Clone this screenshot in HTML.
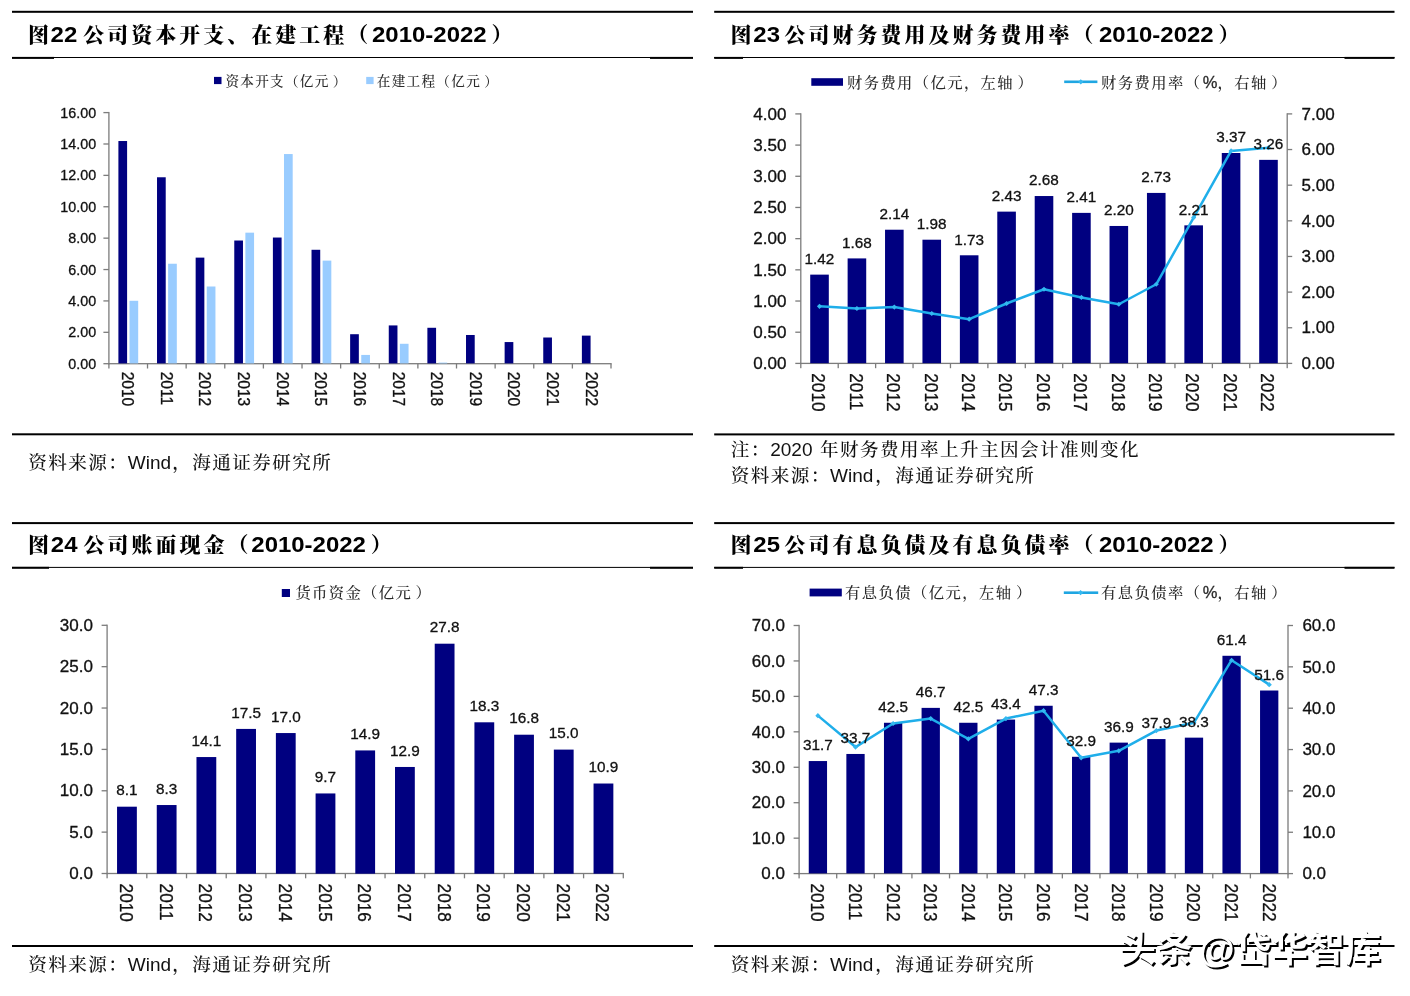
<!DOCTYPE html><html lang="zh-CN"><head><meta charset="utf-8"><title>图22-25</title><style>
html,body{margin:0;padding:0;background:#fff}svg{display:block}.n{font-family:"Liberation Sans", sans-serif;fill:#111;stroke:#111;stroke-width:0.3px}.tt{font-weight:bold;fill:#000}.tc{font-family:"Liberation Sans", "Noto Serif CJK SC", serif;font-size:21px;letter-spacing:3px;font-weight:900}.tl{font-family:"Liberation Sans", sans-serif;font-size:22px}.src{fill:#111}.sc{font-family:"Liberation Sans", "Noto Serif CJK SC", serif;font-size:18.6px;letter-spacing:1.4px;font-weight:500}.sl{font-family:"Liberation Sans", sans-serif;font-size:19px}.lg{font-family:"Liberation Sans", "Noto Serif CJK SC", serif;fill:#2a2a2a;font-weight:500}.wm{font-family:"Liberation Sans","Noto Sans CJK SC",sans-serif;font-size:36.6px;font-weight:700}
</style></head><body>
<svg width="1410" height="996" viewBox="0 0 1410 996">
<rect width="1410" height="996" fill="#fff"/>
<rect x="12" y="10.8" width="681" height="2" fill="#000"/>
<rect x="12" y="57" width="681" height="1" fill="#000"/>
<rect x="12" y="56.9" width="42" height="2" fill="#000"/>
<rect x="650" y="56.9" width="43" height="2" fill="#000"/>
<rect x="12" y="433.3" width="681" height="2" fill="#000"/>
<text x="28" y="42.4" class="tt tc">图</text>
<text transform="translate(50.6,42.4) scale(1.09,1)" class="tt tl">22</text>
<text x="83.2" y="42.4" class="tt tc">公司资本开支、在建工程（</text>
<text transform="translate(372,42.4) scale(1.09,1)" class="tt tl">2010-2022</text>
<text x="491.5" y="42.4" class="tt tc">）</text>
<rect x="214" y="76.9" width="7.5" height="7.2" fill="#000080"/>
<text x="225.4" y="85.6" font-size="13.6" letter-spacing="1.3" class="lg">资本开支（亿元<tspan dx="3.13">）</tspan></text>
<rect x="366.2" y="76.9" width="7.4" height="7.2" fill="#99CCFF"/>
<text x="376.8" y="85.6" font-size="13.6" letter-spacing="1.3" class="lg">在建工程（亿元<tspan dx="3.13">）</tspan></text>
<rect x="108.25" y="111.95" width="1.3" height="252.4" fill="#7c7c7c"/>
<rect x="103.4" y="111.95" width="5.5" height="1.3" fill="#7c7c7c"/>
<text transform="translate(96.1,117.72)" font-size="14.3" text-anchor="end" class="n">16.00</text>
<rect x="103.4" y="143.34" width="5.5" height="1.3" fill="#7c7c7c"/>
<text transform="translate(96.1,149.11)" font-size="14.3" text-anchor="end" class="n">14.00</text>
<rect x="103.4" y="174.72" width="5.5" height="1.3" fill="#7c7c7c"/>
<text transform="translate(96.1,180.49)" font-size="14.3" text-anchor="end" class="n">12.00</text>
<rect x="103.4" y="206.11" width="5.5" height="1.3" fill="#7c7c7c"/>
<text transform="translate(96.1,211.88)" font-size="14.3" text-anchor="end" class="n">10.00</text>
<rect x="103.4" y="237.5" width="5.5" height="1.3" fill="#7c7c7c"/>
<text transform="translate(96.1,243.27)" font-size="14.3" text-anchor="end" class="n">8.00</text>
<rect x="103.4" y="268.89" width="5.5" height="1.3" fill="#7c7c7c"/>
<text transform="translate(96.1,274.66)" font-size="14.3" text-anchor="end" class="n">6.00</text>
<rect x="103.4" y="300.27" width="5.5" height="1.3" fill="#7c7c7c"/>
<text transform="translate(96.1,306.04)" font-size="14.3" text-anchor="end" class="n">4.00</text>
<rect x="103.4" y="331.66" width="5.5" height="1.3" fill="#7c7c7c"/>
<text transform="translate(96.1,337.43)" font-size="14.3" text-anchor="end" class="n">2.00</text>
<rect x="103.4" y="363.05" width="5.5" height="1.3" fill="#7c7c7c"/>
<text transform="translate(96.1,368.82)" font-size="14.3" text-anchor="end" class="n">0.00</text>
<rect x="108.25" y="363.05" width="503.4" height="1.3" fill="#7c7c7c"/>
<rect x="108.25" y="363.7" width="1.3" height="4.8" fill="#7c7c7c"/>
<rect x="146.87" y="363.7" width="1.3" height="4.8" fill="#7c7c7c"/>
<rect x="185.5" y="363.7" width="1.3" height="4.8" fill="#7c7c7c"/>
<rect x="224.12" y="363.7" width="1.3" height="4.8" fill="#7c7c7c"/>
<rect x="262.74" y="363.7" width="1.3" height="4.8" fill="#7c7c7c"/>
<rect x="301.37" y="363.7" width="1.3" height="4.8" fill="#7c7c7c"/>
<rect x="339.99" y="363.7" width="1.3" height="4.8" fill="#7c7c7c"/>
<rect x="378.61" y="363.7" width="1.3" height="4.8" fill="#7c7c7c"/>
<rect x="417.23" y="363.7" width="1.3" height="4.8" fill="#7c7c7c"/>
<rect x="455.86" y="363.7" width="1.3" height="4.8" fill="#7c7c7c"/>
<rect x="494.48" y="363.7" width="1.3" height="4.8" fill="#7c7c7c"/>
<rect x="533.1" y="363.7" width="1.3" height="4.8" fill="#7c7c7c"/>
<rect x="571.73" y="363.7" width="1.3" height="4.8" fill="#7c7c7c"/>
<rect x="610.35" y="363.7" width="1.3" height="4.8" fill="#7c7c7c"/>
<text transform="translate(122.23,371.7) rotate(90) scale(1,1.06)" font-size="15.5" class="n">2010</text>
<text transform="translate(160.85,371.7) rotate(90) scale(1,1.06)" font-size="15.5" class="n">2011</text>
<text transform="translate(199.48,371.7) rotate(90) scale(1,1.06)" font-size="15.5" class="n">2012</text>
<text transform="translate(238.1,371.7) rotate(90) scale(1,1.06)" font-size="15.5" class="n">2013</text>
<text transform="translate(276.72,371.7) rotate(90) scale(1,1.06)" font-size="15.5" class="n">2014</text>
<text transform="translate(315.34,371.7) rotate(90) scale(1,1.06)" font-size="15.5" class="n">2015</text>
<text transform="translate(353.97,371.7) rotate(90) scale(1,1.06)" font-size="15.5" class="n">2016</text>
<text transform="translate(392.59,371.7) rotate(90) scale(1,1.06)" font-size="15.5" class="n">2017</text>
<text transform="translate(431.21,371.7) rotate(90) scale(1,1.06)" font-size="15.5" class="n">2018</text>
<text transform="translate(469.84,371.7) rotate(90) scale(1,1.06)" font-size="15.5" class="n">2019</text>
<text transform="translate(508.46,371.7) rotate(90) scale(1,1.06)" font-size="15.5" class="n">2020</text>
<text transform="translate(547.08,371.7) rotate(90) scale(1,1.06)" font-size="15.5" class="n">2021</text>
<text transform="translate(585.71,371.7) rotate(90) scale(1,1.06)" font-size="15.5" class="n">2022</text>
<rect x="118.4" y="141.02" width="8.7" height="222.38" fill="#000080"/>
<rect x="157.02" y="177.27" width="8.7" height="186.13" fill="#000080"/>
<rect x="195.65" y="257.62" width="8.7" height="105.78" fill="#000080"/>
<rect x="234.27" y="240.52" width="8.7" height="122.88" fill="#000080"/>
<rect x="272.89" y="237.54" width="8.7" height="125.86" fill="#000080"/>
<rect x="311.52" y="249.78" width="8.7" height="113.62" fill="#000080"/>
<rect x="350.14" y="334.21" width="8.7" height="29.19" fill="#000080"/>
<rect x="388.76" y="325.42" width="8.7" height="37.98" fill="#000080"/>
<rect x="427.38" y="327.78" width="8.7" height="35.62" fill="#000080"/>
<rect x="466.01" y="334.99" width="8.7" height="28.41" fill="#000080"/>
<rect x="504.63" y="342.06" width="8.7" height="21.34" fill="#000080"/>
<rect x="543.25" y="337.51" width="8.7" height="25.89" fill="#000080"/>
<rect x="581.88" y="335.62" width="8.7" height="27.78" fill="#000080"/>
<rect x="129.5" y="300.78" width="8.7" height="62.62" fill="#99CCFF"/>
<rect x="168.12" y="263.74" width="8.7" height="99.66" fill="#99CCFF"/>
<rect x="206.75" y="286.5" width="8.7" height="76.9" fill="#99CCFF"/>
<rect x="245.37" y="232.67" width="8.7" height="130.73" fill="#99CCFF"/>
<rect x="283.99" y="154.05" width="8.7" height="209.35" fill="#99CCFF"/>
<rect x="322.62" y="260.61" width="8.7" height="102.79" fill="#99CCFF"/>
<rect x="361.24" y="354.93" width="8.7" height="8.47" fill="#99CCFF"/>
<rect x="399.86" y="343.78" width="8.7" height="19.62" fill="#99CCFF"/>
<rect x="438.48" y="362.62" width="8.7" height="0.78" fill="#99CCFF"/>
<text y="468.8" class="src"><tspan x="28.2" class="sc">资料来源：</tspan><tspan x="127.8" class="sl">Wind</tspan><tspan x="172.3" class="sc">，海通证券研究所</tspan></text>
<rect x="714.2" y="10.8" width="680.3" height="2" fill="#000"/>
<rect x="714.2" y="57" width="680.3" height="1" fill="#000"/>
<rect x="714.2" y="56.9" width="28.8" height="2" fill="#000"/>
<rect x="1344.5" y="56.9" width="50" height="2" fill="#000"/>
<rect x="714.2" y="433.4" width="680.3" height="2" fill="#000"/>
<text x="730.4" y="42.4" class="tt tc">图</text>
<text transform="translate(753.3,42.4) scale(1.09,1)" class="tt tl">23</text>
<text x="784.4" y="42.4" class="tt tc">公司财务费用及财务费用率（</text>
<text transform="translate(1099,42.4) scale(1.09,1)" class="tt tl">2010-2022</text>
<text x="1218.5" y="42.4" class="tt tc">）</text>
<rect x="811.3" y="78.2" width="31.7" height="7.6" fill="#000080"/>
<text x="847" y="87.7" font-size="15.3" letter-spacing="1.4" class="lg">财务费用（亿元，左轴<tspan dx="3.52">）</tspan></text>
<rect x="1064.2" y="80.5" width="33.2" height="2.6" fill="#1FA6E2"/>
<path d="M1078.2 81.8l2.6-2.6 2.6 2.6-2.6 2.6z" fill="#35B8F0"/>
<text x="1101" y="87.7" font-size="15.3" letter-spacing="1.45" class="lg">财务费用率（<tspan font-family='"Liberation Sans", sans-serif' font-size="16.5" letter-spacing="0" dx="1.2" stroke="#2a2a2a" stroke-width="0.3">%</tspan><tspan dx="0.1">，右轴</tspan><tspan dx="3.5">）</tspan></text>
<rect x="800.15" y="113.25" width="1.3" height="250.8" fill="#7c7c7c"/>
<rect x="795.3" y="113.25" width="5.5" height="1.3" fill="#7c7c7c"/>
<text transform="translate(786.4,119.63) scale(1.066,1)" font-size="16" text-anchor="end" class="n">4.00</text>
<rect x="795.3" y="144.44" width="5.5" height="1.3" fill="#7c7c7c"/>
<text transform="translate(786.4,150.82) scale(1.066,1)" font-size="16" text-anchor="end" class="n">3.50</text>
<rect x="795.3" y="175.62" width="5.5" height="1.3" fill="#7c7c7c"/>
<text transform="translate(786.4,182) scale(1.066,1)" font-size="16" text-anchor="end" class="n">3.00</text>
<rect x="795.3" y="206.81" width="5.5" height="1.3" fill="#7c7c7c"/>
<text transform="translate(786.4,213.19) scale(1.066,1)" font-size="16" text-anchor="end" class="n">2.50</text>
<rect x="795.3" y="238" width="5.5" height="1.3" fill="#7c7c7c"/>
<text transform="translate(786.4,244.38) scale(1.066,1)" font-size="16" text-anchor="end" class="n">2.00</text>
<rect x="795.3" y="269.19" width="5.5" height="1.3" fill="#7c7c7c"/>
<text transform="translate(786.4,275.57) scale(1.066,1)" font-size="16" text-anchor="end" class="n">1.50</text>
<rect x="795.3" y="300.38" width="5.5" height="1.3" fill="#7c7c7c"/>
<text transform="translate(786.4,306.75) scale(1.066,1)" font-size="16" text-anchor="end" class="n">1.00</text>
<rect x="795.3" y="331.56" width="5.5" height="1.3" fill="#7c7c7c"/>
<text transform="translate(786.4,337.94) scale(1.066,1)" font-size="16" text-anchor="end" class="n">0.50</text>
<rect x="795.3" y="362.75" width="5.5" height="1.3" fill="#7c7c7c"/>
<text transform="translate(786.4,369.13) scale(1.066,1)" font-size="16" text-anchor="end" class="n">0.00</text>
<rect x="1286.55" y="113.25" width="1.3" height="250.8" fill="#7c7c7c"/>
<rect x="1287.2" y="113.25" width="5" height="1.3" fill="#7c7c7c"/>
<text transform="translate(1301.6,119.63) scale(1.066,1)" font-size="16" class="n">7.00</text>
<rect x="1287.2" y="148.89" width="5" height="1.3" fill="#7c7c7c"/>
<text transform="translate(1301.6,155.27) scale(1.066,1)" font-size="16" class="n">6.00</text>
<rect x="1287.2" y="184.54" width="5" height="1.3" fill="#7c7c7c"/>
<text transform="translate(1301.6,190.91) scale(1.066,1)" font-size="16" class="n">5.00</text>
<rect x="1287.2" y="220.18" width="5" height="1.3" fill="#7c7c7c"/>
<text transform="translate(1301.6,226.56) scale(1.066,1)" font-size="16" class="n">4.00</text>
<rect x="1287.2" y="255.82" width="5" height="1.3" fill="#7c7c7c"/>
<text transform="translate(1301.6,262.2) scale(1.066,1)" font-size="16" class="n">3.00</text>
<rect x="1287.2" y="291.46" width="5" height="1.3" fill="#7c7c7c"/>
<text transform="translate(1301.6,297.84) scale(1.066,1)" font-size="16" class="n">2.00</text>
<rect x="1287.2" y="327.11" width="5" height="1.3" fill="#7c7c7c"/>
<text transform="translate(1301.6,333.49) scale(1.066,1)" font-size="16" class="n">1.00</text>
<rect x="1287.2" y="362.75" width="5" height="1.3" fill="#7c7c7c"/>
<text transform="translate(1301.6,369.13) scale(1.066,1)" font-size="16" class="n">0.00</text>
<rect x="800.15" y="362.75" width="487.7" height="1.3" fill="#7c7c7c"/>
<rect x="800.15" y="363.4" width="1.3" height="4.8" fill="#7c7c7c"/>
<rect x="837.57" y="363.4" width="1.3" height="4.8" fill="#7c7c7c"/>
<rect x="874.98" y="363.4" width="1.3" height="4.8" fill="#7c7c7c"/>
<rect x="912.4" y="363.4" width="1.3" height="4.8" fill="#7c7c7c"/>
<rect x="949.81" y="363.4" width="1.3" height="4.8" fill="#7c7c7c"/>
<rect x="987.23" y="363.4" width="1.3" height="4.8" fill="#7c7c7c"/>
<rect x="1024.64" y="363.4" width="1.3" height="4.8" fill="#7c7c7c"/>
<rect x="1062.06" y="363.4" width="1.3" height="4.8" fill="#7c7c7c"/>
<rect x="1099.47" y="363.4" width="1.3" height="4.8" fill="#7c7c7c"/>
<rect x="1136.89" y="363.4" width="1.3" height="4.8" fill="#7c7c7c"/>
<rect x="1174.3" y="363.4" width="1.3" height="4.8" fill="#7c7c7c"/>
<rect x="1211.72" y="363.4" width="1.3" height="4.8" fill="#7c7c7c"/>
<rect x="1249.13" y="363.4" width="1.3" height="4.8" fill="#7c7c7c"/>
<rect x="1286.55" y="363.4" width="1.3" height="4.8" fill="#7c7c7c"/>
<text transform="translate(812.33,373.3) rotate(90) scale(1,1.02)" font-size="17.2" class="n">2010</text>
<text transform="translate(849.74,373.3) rotate(90) scale(1,1.02)" font-size="17.2" class="n">2011</text>
<text transform="translate(887.16,373.3) rotate(90) scale(1,1.02)" font-size="17.2" class="n">2012</text>
<text transform="translate(924.57,373.3) rotate(90) scale(1,1.02)" font-size="17.2" class="n">2013</text>
<text transform="translate(961.99,373.3) rotate(90) scale(1,1.02)" font-size="17.2" class="n">2014</text>
<text transform="translate(999.4,373.3) rotate(90) scale(1,1.02)" font-size="17.2" class="n">2015</text>
<text transform="translate(1036.82,373.3) rotate(90) scale(1,1.02)" font-size="17.2" class="n">2016</text>
<text transform="translate(1074.23,373.3) rotate(90) scale(1,1.02)" font-size="17.2" class="n">2017</text>
<text transform="translate(1111.65,373.3) rotate(90) scale(1,1.02)" font-size="17.2" class="n">2018</text>
<text transform="translate(1149.07,373.3) rotate(90) scale(1,1.02)" font-size="17.2" class="n">2019</text>
<text transform="translate(1186.48,373.3) rotate(90) scale(1,1.02)" font-size="17.2" class="n">2020</text>
<text transform="translate(1223.9,373.3) rotate(90) scale(1,1.02)" font-size="17.2" class="n">2021</text>
<text transform="translate(1261.31,373.3) rotate(90) scale(1,1.02)" font-size="17.2" class="n">2022</text>
<rect x="810.21" y="274.63" width="18.6" height="88.57" fill="#000080"/>
<rect x="847.62" y="258.41" width="18.6" height="104.79" fill="#000080"/>
<rect x="885.04" y="229.72" width="18.6" height="133.48" fill="#000080"/>
<rect x="922.45" y="239.7" width="18.6" height="123.5" fill="#000080"/>
<rect x="959.87" y="255.29" width="18.6" height="107.91" fill="#000080"/>
<rect x="997.28" y="211.63" width="18.6" height="151.57" fill="#000080"/>
<rect x="1034.7" y="196.03" width="18.6" height="167.16" fill="#000080"/>
<rect x="1072.12" y="212.88" width="18.6" height="150.32" fill="#000080"/>
<rect x="1109.53" y="225.97" width="18.6" height="137.22" fill="#000080"/>
<rect x="1146.95" y="192.92" width="18.6" height="170.28" fill="#000080"/>
<rect x="1184.36" y="225.35" width="18.6" height="137.85" fill="#000080"/>
<rect x="1221.78" y="153" width="18.6" height="210.2" fill="#000080"/>
<rect x="1259.19" y="159.86" width="18.6" height="203.34" fill="#000080"/>
<polyline points="819.51,306.37 856.92,308.51 894.34,307.08 931.75,313.5 969.17,319.2 1006.58,303.52 1044,289.26 1081.42,297.46 1118.83,304.23 1156.25,284.27 1193.66,217.62 1231.08,150.97 1268.49,147.76" fill="none" stroke="#1FAEEA" stroke-width="2.5" stroke-linejoin="round" stroke-linecap="round"/>
<path d="M816.91 306.37L819.51 303.77L822.11 306.37L819.51 308.97Z" fill="#35B8F0"/>
<path d="M854.32 308.51L856.92 305.91L859.52 308.51L856.92 311.11Z" fill="#35B8F0"/>
<path d="M891.74 307.08L894.34 304.48L896.94 307.08L894.34 309.68Z" fill="#35B8F0"/>
<path d="M929.15 313.5L931.75 310.9L934.35 313.5L931.75 316.1Z" fill="#35B8F0"/>
<path d="M966.57 319.2L969.17 316.6L971.77 319.2L969.17 321.8Z" fill="#35B8F0"/>
<path d="M1003.98 303.52L1006.58 300.92L1009.18 303.52L1006.58 306.12Z" fill="#35B8F0"/>
<path d="M1041.4 289.26L1044 286.66L1046.6 289.26L1044 291.86Z" fill="#35B8F0"/>
<path d="M1078.82 297.46L1081.42 294.86L1084.02 297.46L1081.42 300.06Z" fill="#35B8F0"/>
<path d="M1116.23 304.23L1118.83 301.63L1121.43 304.23L1118.83 306.83Z" fill="#35B8F0"/>
<path d="M1153.65 284.27L1156.25 281.67L1158.85 284.27L1156.25 286.87Z" fill="#35B8F0"/>
<path d="M1191.06 217.62L1193.66 215.02L1196.26 217.62L1193.66 220.22Z" fill="#35B8F0"/>
<path d="M1228.48 150.97L1231.08 148.37L1233.68 150.97L1231.08 153.57Z" fill="#35B8F0"/>
<path d="M1265.89 147.76L1268.49 145.16L1271.09 147.76L1268.49 150.36Z" fill="#35B8F0"/>
<text x="819.51" y="264.03" font-size="15.3" text-anchor="middle" class="n">1.42</text>
<text x="856.92" y="247.81" font-size="15.3" text-anchor="middle" class="n">1.68</text>
<text x="894.34" y="219.12" font-size="15.3" text-anchor="middle" class="n">2.14</text>
<text x="931.75" y="229.1" font-size="15.3" text-anchor="middle" class="n">1.98</text>
<text x="969.17" y="244.69" font-size="15.3" text-anchor="middle" class="n">1.73</text>
<text x="1006.58" y="201.03" font-size="15.3" text-anchor="middle" class="n">2.43</text>
<text x="1044" y="185.43" font-size="15.3" text-anchor="middle" class="n">2.68</text>
<text x="1081.42" y="202.28" font-size="15.3" text-anchor="middle" class="n">2.41</text>
<text x="1118.83" y="215.37" font-size="15.3" text-anchor="middle" class="n">2.20</text>
<text x="1156.25" y="182.32" font-size="15.3" text-anchor="middle" class="n">2.73</text>
<text x="1193.66" y="214.75" font-size="15.3" text-anchor="middle" class="n">2.21</text>
<text x="1231.08" y="142.4" font-size="15.3" text-anchor="middle" class="n">3.37</text>
<text x="1268.49" y="149.26" font-size="15.3" text-anchor="middle" class="n">3.26</text>
<text y="455.7" class="src"><tspan x="730.8" class="sc">注：</tspan><tspan x="770.2" class="sl">2020</tspan><tspan x="820" class="sc">年财务费用率上升主因会计准则变化</tspan></text>
<text y="482.2" class="src"><tspan x="730.8" class="sc">资料来源：</tspan><tspan x="830" class="sl">Wind</tspan><tspan x="875.3" class="sc">，海通证券研究所</tspan></text>
<rect x="12" y="522.1" width="681" height="2" fill="#000"/>
<rect x="12" y="566.9" width="681" height="1" fill="#000"/>
<rect x="12" y="566.8" width="37" height="2" fill="#000"/>
<rect x="650" y="566.8" width="43" height="2" fill="#000"/>
<rect x="12" y="945" width="681" height="2" fill="#000"/>
<text x="28.1" y="551.9" class="tt tc">图</text>
<text transform="translate(50.8,551.9) scale(1.09,1)" class="tt tl">24</text>
<text x="83.5" y="551.9" class="tt tc">公司账面现金（</text>
<text transform="translate(251.3,551.9) scale(1.09,1)" class="tt tl">2010-2022</text>
<text x="370.8" y="551.9" class="tt tc">）</text>
<rect x="281.8" y="589" width="8.2" height="8" fill="#000080"/>
<text x="295.4" y="597.6" font-size="15.3" letter-spacing="1.37" class="lg">货币资金（亿元<tspan dx="3.52">）</tspan></text>
<rect x="106.45" y="624.65" width="1.3" height="249.5" fill="#7c7c7c"/>
<rect x="101.6" y="624.65" width="5.5" height="1.3" fill="#7c7c7c"/>
<text transform="translate(92.9,631.03) scale(1.066,1)" font-size="16" text-anchor="end" class="n">30.0</text>
<rect x="101.6" y="666.02" width="5.5" height="1.3" fill="#7c7c7c"/>
<text transform="translate(92.9,672.39) scale(1.066,1)" font-size="16" text-anchor="end" class="n">25.0</text>
<rect x="101.6" y="707.38" width="5.5" height="1.3" fill="#7c7c7c"/>
<text transform="translate(92.9,713.76) scale(1.066,1)" font-size="16" text-anchor="end" class="n">20.0</text>
<rect x="101.6" y="748.75" width="5.5" height="1.3" fill="#7c7c7c"/>
<text transform="translate(92.9,755.13) scale(1.066,1)" font-size="16" text-anchor="end" class="n">15.0</text>
<rect x="101.6" y="790.12" width="5.5" height="1.3" fill="#7c7c7c"/>
<text transform="translate(92.9,796.49) scale(1.066,1)" font-size="16" text-anchor="end" class="n">10.0</text>
<rect x="101.6" y="831.48" width="5.5" height="1.3" fill="#7c7c7c"/>
<text transform="translate(92.9,837.86) scale(1.066,1)" font-size="16" text-anchor="end" class="n">5.0</text>
<rect x="101.6" y="872.85" width="5.5" height="1.3" fill="#7c7c7c"/>
<text transform="translate(92.9,879.23) scale(1.066,1)" font-size="16" text-anchor="end" class="n">0.0</text>
<rect x="106.45" y="872.85" width="517.5" height="1.3" fill="#7c7c7c"/>
<rect x="106.45" y="873.5" width="1.3" height="4.8" fill="#7c7c7c"/>
<rect x="146.16" y="873.5" width="1.3" height="4.8" fill="#7c7c7c"/>
<rect x="185.87" y="873.5" width="1.3" height="4.8" fill="#7c7c7c"/>
<rect x="225.57" y="873.5" width="1.3" height="4.8" fill="#7c7c7c"/>
<rect x="265.28" y="873.5" width="1.3" height="4.8" fill="#7c7c7c"/>
<rect x="304.99" y="873.5" width="1.3" height="4.8" fill="#7c7c7c"/>
<rect x="344.7" y="873.5" width="1.3" height="4.8" fill="#7c7c7c"/>
<rect x="384.4" y="873.5" width="1.3" height="4.8" fill="#7c7c7c"/>
<rect x="424.11" y="873.5" width="1.3" height="4.8" fill="#7c7c7c"/>
<rect x="463.82" y="873.5" width="1.3" height="4.8" fill="#7c7c7c"/>
<rect x="503.53" y="873.5" width="1.3" height="4.8" fill="#7c7c7c"/>
<rect x="543.23" y="873.5" width="1.3" height="4.8" fill="#7c7c7c"/>
<rect x="582.94" y="873.5" width="1.3" height="4.8" fill="#7c7c7c"/>
<rect x="622.65" y="873.5" width="1.3" height="4.8" fill="#7c7c7c"/>
<text transform="translate(119.97,883.6) rotate(90) scale(1,1.02)" font-size="17.2" class="n">2010</text>
<text transform="translate(159.68,883.6) rotate(90) scale(1,1.02)" font-size="17.2" class="n">2011</text>
<text transform="translate(199.39,883.6) rotate(90) scale(1,1.02)" font-size="17.2" class="n">2012</text>
<text transform="translate(239.1,883.6) rotate(90) scale(1,1.02)" font-size="17.2" class="n">2013</text>
<text transform="translate(278.8,883.6) rotate(90) scale(1,1.02)" font-size="17.2" class="n">2014</text>
<text transform="translate(318.51,883.6) rotate(90) scale(1,1.02)" font-size="17.2" class="n">2015</text>
<text transform="translate(358.22,883.6) rotate(90) scale(1,1.02)" font-size="17.2" class="n">2016</text>
<text transform="translate(397.93,883.6) rotate(90) scale(1,1.02)" font-size="17.2" class="n">2017</text>
<text transform="translate(437.63,883.6) rotate(90) scale(1,1.02)" font-size="17.2" class="n">2018</text>
<text transform="translate(477.34,883.6) rotate(90) scale(1,1.02)" font-size="17.2" class="n">2019</text>
<text transform="translate(517.05,883.6) rotate(90) scale(1,1.02)" font-size="17.2" class="n">2020</text>
<text transform="translate(556.76,883.6) rotate(90) scale(1,1.02)" font-size="17.2" class="n">2021</text>
<text transform="translate(596.47,883.6) rotate(90) scale(1,1.02)" font-size="17.2" class="n">2022</text>
<rect x="117.05" y="806.69" width="19.8" height="67.01" fill="#000080"/>
<rect x="156.76" y="805.03" width="19.8" height="68.67" fill="#000080"/>
<rect x="196.47" y="757.05" width="19.8" height="116.65" fill="#000080"/>
<rect x="236.18" y="728.92" width="19.8" height="144.78" fill="#000080"/>
<rect x="275.88" y="733.05" width="19.8" height="140.65" fill="#000080"/>
<rect x="315.59" y="793.45" width="19.8" height="80.25" fill="#000080"/>
<rect x="355.3" y="750.43" width="19.8" height="123.27" fill="#000080"/>
<rect x="395.01" y="766.97" width="19.8" height="106.73" fill="#000080"/>
<rect x="434.72" y="643.7" width="19.8" height="230" fill="#000080"/>
<rect x="474.42" y="722.3" width="19.8" height="151.4" fill="#000080"/>
<rect x="514.13" y="734.71" width="19.8" height="138.99" fill="#000080"/>
<rect x="553.84" y="749.6" width="19.8" height="124.1" fill="#000080"/>
<rect x="593.55" y="783.52" width="19.8" height="90.18" fill="#000080"/>
<text x="126.95" y="795.29" font-size="15.3" text-anchor="middle" class="n">8.1</text>
<text x="166.66" y="793.63" font-size="15.3" text-anchor="middle" class="n">8.3</text>
<text x="206.37" y="745.65" font-size="15.3" text-anchor="middle" class="n">14.1</text>
<text x="246.08" y="717.52" font-size="15.3" text-anchor="middle" class="n">17.5</text>
<text x="285.78" y="721.65" font-size="15.3" text-anchor="middle" class="n">17.0</text>
<text x="325.49" y="782.05" font-size="15.3" text-anchor="middle" class="n">9.7</text>
<text x="365.2" y="739.03" font-size="15.3" text-anchor="middle" class="n">14.9</text>
<text x="404.91" y="755.57" font-size="15.3" text-anchor="middle" class="n">12.9</text>
<text x="444.62" y="632.3" font-size="15.3" text-anchor="middle" class="n">27.8</text>
<text x="484.32" y="710.9" font-size="15.3" text-anchor="middle" class="n">18.3</text>
<text x="524.03" y="723.31" font-size="15.3" text-anchor="middle" class="n">16.8</text>
<text x="563.74" y="738.2" font-size="15.3" text-anchor="middle" class="n">15.0</text>
<text x="603.45" y="772.12" font-size="15.3" text-anchor="middle" class="n">10.9</text>
<text y="970.5" class="src"><tspan x="28.2" class="sc">资料来源：</tspan><tspan x="127.8" class="sl">Wind</tspan><tspan x="172.3" class="sc">，海通证券研究所</tspan></text>
<rect x="714.2" y="522.1" width="680.3" height="2" fill="#000"/>
<rect x="714.2" y="566.9" width="680.3" height="1" fill="#000"/>
<rect x="714.2" y="566.8" width="28.8" height="2" fill="#000"/>
<rect x="1344.5" y="566.8" width="50" height="2" fill="#000"/>
<rect x="714.2" y="945" width="680.3" height="2" fill="#000"/>
<text x="730.4" y="551.9" class="tt tc">图</text>
<text transform="translate(753.3,551.9) scale(1.09,1)" class="tt tl">25</text>
<text x="784.4" y="551.9" class="tt tc">公司有息负债及有息负债率（</text>
<text transform="translate(1099,551.9) scale(1.09,1)" class="tt tl">2010-2022</text>
<text x="1218.5" y="551.9" class="tt tc">）</text>
<rect x="809.6" y="588.6" width="32.2" height="7.8" fill="#000080"/>
<text x="845" y="597.7" font-size="15.3" letter-spacing="1.45" class="lg">有息负债（亿元，左轴<tspan dx="3.52">）</tspan></text>
<rect x="1063.8" y="591.4" width="34.4" height="2.6" fill="#1FA6E2"/>
<path d="M1078 592.7l2.6-2.6 2.6 2.6-2.6 2.6z" fill="#35B8F0"/>
<text x="1101" y="597.7" font-size="15.3" letter-spacing="1.45" class="lg">有息负债率（<tspan font-family='"Liberation Sans", sans-serif' font-size="16.5" letter-spacing="0" dx="1.2" stroke="#2a2a2a" stroke-width="0.3">%</tspan><tspan dx="0.1">，右轴</tspan><tspan dx="3.5">）</tspan></text>
<rect x="798.45" y="624.85" width="1.3" height="249.4" fill="#7c7c7c"/>
<rect x="793.6" y="624.85" width="5.5" height="1.3" fill="#7c7c7c"/>
<text transform="translate(785,631.23) scale(1.066,1)" font-size="16" text-anchor="end" class="n">70.0</text>
<rect x="793.6" y="660.29" width="5.5" height="1.3" fill="#7c7c7c"/>
<text transform="translate(785,666.67) scale(1.066,1)" font-size="16" text-anchor="end" class="n">60.0</text>
<rect x="793.6" y="695.74" width="5.5" height="1.3" fill="#7c7c7c"/>
<text transform="translate(785,702.11) scale(1.066,1)" font-size="16" text-anchor="end" class="n">50.0</text>
<rect x="793.6" y="731.18" width="5.5" height="1.3" fill="#7c7c7c"/>
<text transform="translate(785,737.56) scale(1.066,1)" font-size="16" text-anchor="end" class="n">40.0</text>
<rect x="793.6" y="766.62" width="5.5" height="1.3" fill="#7c7c7c"/>
<text transform="translate(785,773) scale(1.066,1)" font-size="16" text-anchor="end" class="n">30.0</text>
<rect x="793.6" y="802.06" width="5.5" height="1.3" fill="#7c7c7c"/>
<text transform="translate(785,808.44) scale(1.066,1)" font-size="16" text-anchor="end" class="n">20.0</text>
<rect x="793.6" y="837.51" width="5.5" height="1.3" fill="#7c7c7c"/>
<text transform="translate(785,843.89) scale(1.066,1)" font-size="16" text-anchor="end" class="n">10.0</text>
<rect x="793.6" y="872.95" width="5.5" height="1.3" fill="#7c7c7c"/>
<text transform="translate(785,879.33) scale(1.066,1)" font-size="16" text-anchor="end" class="n">0.0</text>
<rect x="1287.35" y="624.85" width="1.3" height="249.4" fill="#7c7c7c"/>
<rect x="1288" y="624.85" width="5" height="1.3" fill="#7c7c7c"/>
<text transform="translate(1302.4,631.23) scale(1.066,1)" font-size="16" class="n">60.0</text>
<rect x="1288" y="666.2" width="5" height="1.3" fill="#7c7c7c"/>
<text transform="translate(1302.4,672.58) scale(1.066,1)" font-size="16" class="n">50.0</text>
<rect x="1288" y="707.55" width="5" height="1.3" fill="#7c7c7c"/>
<text transform="translate(1302.4,713.93) scale(1.066,1)" font-size="16" class="n">40.0</text>
<rect x="1288" y="748.9" width="5" height="1.3" fill="#7c7c7c"/>
<text transform="translate(1302.4,755.28) scale(1.066,1)" font-size="16" class="n">30.0</text>
<rect x="1288" y="790.25" width="5" height="1.3" fill="#7c7c7c"/>
<text transform="translate(1302.4,796.63) scale(1.066,1)" font-size="16" class="n">20.0</text>
<rect x="1288" y="831.6" width="5" height="1.3" fill="#7c7c7c"/>
<text transform="translate(1302.4,837.98) scale(1.066,1)" font-size="16" class="n">10.0</text>
<rect x="1288" y="872.95" width="5" height="1.3" fill="#7c7c7c"/>
<text transform="translate(1302.4,879.33) scale(1.066,1)" font-size="16" class="n">0.0</text>
<rect x="798.45" y="872.95" width="490.2" height="1.3" fill="#7c7c7c"/>
<rect x="798.45" y="873.6" width="1.3" height="4.8" fill="#7c7c7c"/>
<rect x="836.06" y="873.6" width="1.3" height="4.8" fill="#7c7c7c"/>
<rect x="873.67" y="873.6" width="1.3" height="4.8" fill="#7c7c7c"/>
<rect x="911.27" y="873.6" width="1.3" height="4.8" fill="#7c7c7c"/>
<rect x="948.88" y="873.6" width="1.3" height="4.8" fill="#7c7c7c"/>
<rect x="986.49" y="873.6" width="1.3" height="4.8" fill="#7c7c7c"/>
<rect x="1024.1" y="873.6" width="1.3" height="4.8" fill="#7c7c7c"/>
<rect x="1061.7" y="873.6" width="1.3" height="4.8" fill="#7c7c7c"/>
<rect x="1099.31" y="873.6" width="1.3" height="4.8" fill="#7c7c7c"/>
<rect x="1136.92" y="873.6" width="1.3" height="4.8" fill="#7c7c7c"/>
<rect x="1174.53" y="873.6" width="1.3" height="4.8" fill="#7c7c7c"/>
<rect x="1212.13" y="873.6" width="1.3" height="4.8" fill="#7c7c7c"/>
<rect x="1249.74" y="873.6" width="1.3" height="4.8" fill="#7c7c7c"/>
<rect x="1287.35" y="873.6" width="1.3" height="4.8" fill="#7c7c7c"/>
<text transform="translate(811.32,883.4) rotate(90) scale(1,1.02)" font-size="17.2" class="n">2010</text>
<text transform="translate(848.93,883.4) rotate(90) scale(1,1.02)" font-size="17.2" class="n">2011</text>
<text transform="translate(886.54,883.4) rotate(90) scale(1,1.02)" font-size="17.2" class="n">2012</text>
<text transform="translate(924.15,883.4) rotate(90) scale(1,1.02)" font-size="17.2" class="n">2013</text>
<text transform="translate(961.75,883.4) rotate(90) scale(1,1.02)" font-size="17.2" class="n">2014</text>
<text transform="translate(999.36,883.4) rotate(90) scale(1,1.02)" font-size="17.2" class="n">2015</text>
<text transform="translate(1036.97,883.4) rotate(90) scale(1,1.02)" font-size="17.2" class="n">2016</text>
<text transform="translate(1074.58,883.4) rotate(90) scale(1,1.02)" font-size="17.2" class="n">2017</text>
<text transform="translate(1112.18,883.4) rotate(90) scale(1,1.02)" font-size="17.2" class="n">2018</text>
<text transform="translate(1149.79,883.4) rotate(90) scale(1,1.02)" font-size="17.2" class="n">2019</text>
<text transform="translate(1187.4,883.4) rotate(90) scale(1,1.02)" font-size="17.2" class="n">2020</text>
<text transform="translate(1225.01,883.4) rotate(90) scale(1,1.02)" font-size="17.2" class="n">2021</text>
<text transform="translate(1262.62,883.4) rotate(90) scale(1,1.02)" font-size="17.2" class="n">2022</text>
<rect x="808.75" y="761.05" width="18.3" height="112.35" fill="#000080"/>
<rect x="846.36" y="753.96" width="18.3" height="119.44" fill="#000080"/>
<rect x="883.97" y="722.77" width="18.3" height="150.63" fill="#000080"/>
<rect x="921.58" y="707.88" width="18.3" height="165.52" fill="#000080"/>
<rect x="959.18" y="722.77" width="18.3" height="150.63" fill="#000080"/>
<rect x="996.79" y="719.58" width="18.3" height="153.82" fill="#000080"/>
<rect x="1034.4" y="705.76" width="18.3" height="167.64" fill="#000080"/>
<rect x="1072.01" y="756.79" width="18.3" height="116.61" fill="#000080"/>
<rect x="1109.62" y="742.62" width="18.3" height="130.78" fill="#000080"/>
<rect x="1147.22" y="739.07" width="18.3" height="134.33" fill="#000080"/>
<rect x="1184.83" y="737.65" width="18.3" height="135.75" fill="#000080"/>
<rect x="1222.44" y="655.78" width="18.3" height="217.62" fill="#000080"/>
<rect x="1260.05" y="690.51" width="18.3" height="182.89" fill="#000080"/>
<polyline points="817.9,715.64 855.51,747.07 893.12,723.5 930.73,718.54 968.33,738.8 1005.94,718.54 1043.55,710.68 1081.16,757.82 1118.77,750.79 1156.37,730.53 1193.98,722.67 1231.59,660.23 1269.2,684.63" fill="none" stroke="#1FAEEA" stroke-width="2.5" stroke-linejoin="round" stroke-linecap="round"/>
<path d="M815.3 715.64L817.9 713.04L820.5 715.64L817.9 718.24Z" fill="#35B8F0"/>
<path d="M852.91 747.07L855.51 744.47L858.11 747.07L855.51 749.67Z" fill="#35B8F0"/>
<path d="M890.52 723.5L893.12 720.9L895.72 723.5L893.12 726.1Z" fill="#35B8F0"/>
<path d="M928.13 718.54L930.73 715.94L933.33 718.54L930.73 721.14Z" fill="#35B8F0"/>
<path d="M965.73 738.8L968.33 736.2L970.93 738.8L968.33 741.4Z" fill="#35B8F0"/>
<path d="M1003.34 718.54L1005.94 715.94L1008.54 718.54L1005.94 721.14Z" fill="#35B8F0"/>
<path d="M1040.95 710.68L1043.55 708.08L1046.15 710.68L1043.55 713.28Z" fill="#35B8F0"/>
<path d="M1078.56 757.82L1081.16 755.22L1083.76 757.82L1081.16 760.42Z" fill="#35B8F0"/>
<path d="M1116.17 750.79L1118.77 748.19L1121.37 750.79L1118.77 753.39Z" fill="#35B8F0"/>
<path d="M1153.77 730.53L1156.37 727.93L1158.97 730.53L1156.37 733.13Z" fill="#35B8F0"/>
<path d="M1191.38 722.67L1193.98 720.07L1196.58 722.67L1193.98 725.27Z" fill="#35B8F0"/>
<path d="M1228.99 660.23L1231.59 657.63L1234.19 660.23L1231.59 662.83Z" fill="#35B8F0"/>
<path d="M1266.6 684.63L1269.2 682.03L1271.8 684.63L1269.2 687.23Z" fill="#35B8F0"/>
<text x="817.9" y="750.45" font-size="15.3" text-anchor="middle" class="n">31.7</text>
<text x="855.51" y="743.36" font-size="15.3" text-anchor="middle" class="n">33.7</text>
<text x="893.12" y="712.17" font-size="15.3" text-anchor="middle" class="n">42.5</text>
<text x="930.73" y="697.28" font-size="15.3" text-anchor="middle" class="n">46.7</text>
<text x="968.33" y="712.17" font-size="15.3" text-anchor="middle" class="n">42.5</text>
<text x="1005.94" y="708.98" font-size="15.3" text-anchor="middle" class="n">43.4</text>
<text x="1043.55" y="695.16" font-size="15.3" text-anchor="middle" class="n">47.3</text>
<text x="1081.16" y="746.19" font-size="15.3" text-anchor="middle" class="n">32.9</text>
<text x="1118.77" y="732.02" font-size="15.3" text-anchor="middle" class="n">36.9</text>
<text x="1156.37" y="728.47" font-size="15.3" text-anchor="middle" class="n">37.9</text>
<text x="1193.98" y="727.05" font-size="15.3" text-anchor="middle" class="n">38.3</text>
<text x="1231.59" y="645.18" font-size="15.3" text-anchor="middle" class="n">61.4</text>
<text x="1269.2" y="679.91" font-size="15.3" text-anchor="middle" class="n">51.6</text>
<text y="970.5" class="src"><tspan x="730.8" class="sc">资料来源：</tspan><tspan x="830" class="sl">Wind</tspan><tspan x="875.3" class="sc">，海通证券研究所</tspan></text>
<text x="1121.1" y="964.2" class="wm" fill="#000" word-spacing="-3.5">头条 @岱华智库</text>
<text x="1119.3" y="962.4" class="wm" fill="#fff" word-spacing="-3.5">头条 @岱华智库</text>
</svg></body></html>
